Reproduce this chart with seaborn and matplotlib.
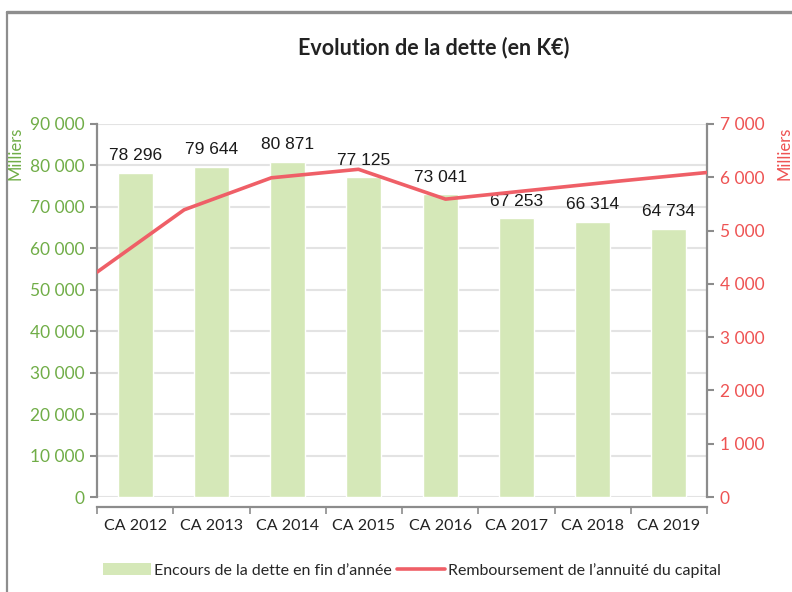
import numpy as np
import pandas as pd
import matplotlib
matplotlib.use("Agg")
import matplotlib.pyplot as plt
import seaborn as sns
from matplotlib.lines import Line2D
from matplotlib.patches import Patch
from matplotlib.ticker import FuncFormatter, MultipleLocator

# data
years = ["CA 2012", "CA 2013", "CA 2014", "CA 2015", "CA 2016", "CA 2017", "CA 2018", "CA 2019"]
encours = [78296, 79644, 80871, 77125, 73041, 67253, 66314, 64734]
remboursement = [4220, 5390, 5990, 6150, 5590, 5760, 5930, 6090]

bar_color = "#D5E8B8"
line_color = "#EF5F67"
green = "#70AD47"
red = "#EE5353"
spine_gray = "#8C8C8C"

sns.set_style("white")
plt.rcParams["font.family"] = ["Lato", "DejaVu Sans"]

fmt = FuncFormatter(lambda v, p: f"{v:,.0f}".replace(",", " "))

fig = plt.figure(figsize=(7.92, 5.92), dpi=100)
ax = fig.add_axes([97 / 792, 1 - 497 / 592, 610 / 792, 373 / 592])

df = pd.DataFrame({"annee": years, "encours": encours})
sns.barplot(data=df, x="annee", y="encours", color=bar_color, saturation=1,
            width=0.46, ax=ax, zorder=2)
ax.set_xlim(-0.5, len(years) - 0.5)
ax.set_ylim(0, 90000)
ax.yaxis.set_major_locator(MultipleLocator(10000))
ax.yaxis.set_major_formatter(fmt)
ax.grid(axis="y", color="#E3E3E3", lw=1.5, zorder=0)
ax.set_axisbelow(True)
ax.set_xlabel("")
ax.set_ylabel("")

for i, v in enumerate(encours):
    ax.annotate(f"{v:,}".replace(",", " "), (i, v), xytext=(0, 7), textcoords="offset points",
                ha="center", va="bottom", fontsize=12.5, color="#1a1a1a",
                family=["Liberation Sans"])

for s in ["top", "right"]:
    ax.spines[s].set_visible(False)
ax.spines["left"].set_color(spine_gray)
ax.spines["left"].set_linewidth(1.6)
ax.spines["bottom"].set_color(spine_gray)
ax.spines["bottom"].set_linewidth(1.6)
ax.spines["bottom"].set_position(("outward", 7))
ax.tick_params(axis="y", colors=spine_gray, labelcolor=green, labelsize=12.5,
               length=5, width=1.5, direction="out", left=True, pad=4)
ax.set_xticks(np.arange(-0.5, len(years), 1.0), minor=True)
ax.tick_params(axis="x", which="major", length=0, labelsize=11.5, labelcolor="#222222", pad=9)
ax.tick_params(axis="x", which="minor", length=5, width=1.2, color=spine_gray, bottom=True)

# secondary axis for annual repayment
ax2 = ax.twinx()
ax2.set_ylim(0, 7000)
ax2.yaxis.set_major_locator(MultipleLocator(1000))
ax2.yaxis.set_major_formatter(fmt)
for s in ["top", "left", "bottom"]:
    ax2.spines[s].set_visible(False)
ax2.spines["right"].set_color(spine_gray)
ax2.spines["right"].set_linewidth(1.6)
ax2.tick_params(axis="y", colors=spine_gray, labelcolor=red, labelsize=12.5,
                length=5, width=1.5, direction="out", right=True, pad=4)

line_ax = ax2.twiny()
dfl = pd.DataFrame({"pos": np.arange(len(remboursement)), "remb": remboursement})
sns.lineplot(data=dfl, x="pos", y="remb", color=line_color, lw=2.6, ax=line_ax)
line_ax.set_xlim(0, len(remboursement) - 1)
line_ax.set_ylim(0, 7000)
line_ax.axis("off")
line_ax.set_xlabel("")
line_ax.set_ylabel("")

fig.text(0.547, 0.919, "Evolution de la dette (en K€)", ha="center", va="center",
         fontsize=15.5, fontweight="bold", color="#222222")
fig.text(0.020, 0.741, "Milliers", rotation=90, ha="center", va="center",
         fontsize=12, color=green)
fig.text(0.991, 0.741, "Milliers", rotation=90, ha="center", va="center",
         fontsize=12, color=red)

handles = [Patch(facecolor=bar_color, edgecolor="none"),
           Line2D([0], [0], color=line_color, lw=2.6)]
labels = ["Encours de la dette en fin d’année", "Remboursement de l’annuité du capital"]
fig.legend(handles, labels, loc="center", bbox_to_anchor=(0.52, 0.037), ncol=2,
           frameon=False, fontsize=11.5, handlelength=3.0, handleheight=0.8,
           columnspacing=0.3, handletextpad=0.2)

# outer chart frame
fig.add_artist(Line2D([7 / 792, 7 / 792], [0, 1 - 12 / 592], color="#8E8E8E", lw=1.6))
fig.add_artist(Line2D([7 / 792, 1], [1 - 12 / 592, 1 - 12 / 592], color="#8E8E8E", lw=2.4))

fig.savefig("out.png", dpi=100)
plt.close(fig)
